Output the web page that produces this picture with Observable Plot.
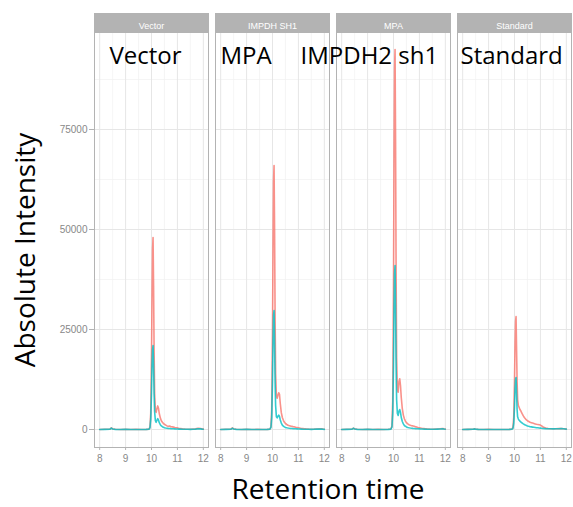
<!DOCTYPE html>
<html>
<head>
<meta charset="utf-8">
<script src="https://cdn.jsdelivr.net/npm/d3@7"></script>
<script src="https://cdn.jsdelivr.net/npm/@observablehq/plot@0.6"></script>
<style>
  body { margin: 0; background: #fff; }
  #chart svg { display: block; }
</style>
</head>
<body>
<div id="chart"></div>
<script>
// Facet strips (left to right) and the hand-written notes placed over each panel
const panels = ["Vector", "IMPDH SH1", "MPA", "Standard"];
const panelNotes = ["Vector", "MPA", "IMPDH2 sh1", "Standard"];
const traces = ["Trace A", "Trace B"];

// Shared retention-time grid (min)
const retentionTime = [
  8.00, 8.20, 8.40, 8.45, 8.50, 8.60, 8.80, 9.00, 9.20, 9.40, 9.60, 9.80,
  9.90, 9.94, 9.97, 10.00, 10.02, 10.04, 10.06, 10.08, 10.10, 10.12, 10.15, 10.18,
  10.21, 10.24, 10.27, 10.30, 10.34, 10.38, 10.42, 10.46, 10.50, 10.55, 10.60, 10.65,
  10.70, 10.75, 10.80, 10.85, 10.90, 10.95, 11.00, 11.05, 11.10, 11.20,
  11.30, 11.40, 11.50, 11.60, 11.70, 11.80, 11.90, 11.95, 12.00
];

// Absolute intensity per panel and trace
const vectorA = [
  0, 50, 100, 400, 150, 50, 0, 30, 0, 20, 0, 40,
  100, 600, 4000, 18000, 33000, 45000, 48000, 36000, 20000, 9000, 4600, 4300,
  5200, 5900, 5300, 4000, 2900, 2200, 1800, 1500, 1300, 1100, 900, 800,
  850, 700, 650, 600, 500, 450, 400, 300, 250, 150,
  100, 80, 60, 100, 150, 300, 250, 150, 100
];
const vectorB = [
  0, 40, 80, 350, 120, 40, 0, 20, 0, 10, 0, 30,
  80, 400, 2500, 9000, 16000, 20000, 21000, 16000, 9000, 4500, 2200, 1800,
  2300, 2700, 2400, 1700, 1200, 900, 700, 550, 450, 380, 320, 280,
  250, 220, 200, 180, 160, 140, 120, 100, 90, 70,
  60, 50, 40, 60, 90, 200, 150, 100, 60
];
const impdhA = [
  0, 50, 100, 400, 150, 50, 0, 30, 0, 20, 0, 40,
  100, 700, 5000, 24000, 45000, 62000, 66000, 50000, 28000, 14000, 8500, 7800,
  8600, 9200, 8800, 6500, 4200, 3000, 2300, 1800, 1500, 1250, 1050, 950,
  850, 800, 700, 650, 550, 500, 450, 380, 320, 220,
  150, 100, 80, 100, 140, 200, 180, 120, 80
];
const impdhB = [
  0, 40, 80, 300, 120, 40, 0, 20, 0, 10, 0, 30,
  90, 500, 3000, 12000, 22000, 28500, 29750, 22000, 12000, 6000, 3200, 2900,
  3300, 3600, 3300, 2400, 1600, 1100, 850, 650, 520, 430, 360, 310,
  270, 240, 210, 190, 170, 150, 130, 110, 100, 80,
  60, 50, 40, 60, 90, 120, 100, 70, 40
];
const mpaA = [
  0, 50, 100, 350, 150, 50, 0, 30, 0, 20, 0, 50,
  120, 900, 7000, 35000, 68000, 90000, 95000, 72000, 40000, 18000, 10000, 9300,
  12000, 12700, 11000, 8000, 5200, 3600, 2700, 2100, 1700, 1400, 1200, 1050,
  950, 900, 800, 700, 600, 520, 450, 380, 320, 220,
  150, 100, 80, 100, 130, 180, 220, 150, 100
];
const mpaB = [
  0, 40, 80, 300, 120, 40, 0, 20, 0, 10, 0, 40,
  100, 600, 4000, 16000, 30000, 39000, 41000, 30000, 16000, 7500, 4000, 3500,
  4600, 5000, 4300, 3000, 2000, 1400, 1000, 800, 650, 520, 430, 370,
  320, 280, 250, 220, 190, 170, 150, 130, 110, 90,
  70, 60, 50, 70, 100, 130, 160, 110, 70
];
const standardA = [
  0, 40, 80, 200, 100, 40, 0, 20, 0, 10, 0, 30,
  80, 500, 3000, 12000, 21000, 27000, 28250, 20000, 12000, 7500, 6000, 5500,
  5000, 4700, 4300, 3900, 3400, 3000, 2700, 2400, 2200, 2000, 1800, 1700,
  1600, 1500, 1400, 1300, 1250, 1200, 1100, 900, 600, 350,
  250, 200, 180, 200, 220, 250, 200, 150, 100
];
const standardB = [
  0, 30, 60, 150, 80, 30, 0, 15, 0, 10, 0, 25,
  60, 300, 1500, 5500, 10000, 12500, 13000, 9000, 5000, 3200, 2600, 2300,
  2100, 1900, 1750, 1600, 1400, 1250, 1100, 1000, 900, 800, 700, 650,
  600, 550, 500, 450, 420, 380, 350, 300, 260, 220,
  200, 180, 160, 180, 200, 220, 180, 130, 90
];

// Axis ticks and grid breaks
const xTicks = [8, 9, 10, 11, 12];
const xMinor = [8.5, 9.5, 10.5, 11.5];
const yTicks = [0, 25000, 50000, 75000];
const yMinor = [12500, 37500, 62500, 87500];

const traceSets = [
  [panels[0], traces[0], vectorA], [panels[0], traces[1], vectorB],
  [panels[1], traces[0], impdhA], [panels[1], traces[1], impdhB],
  [panels[2], traces[0], mpaA], [panels[2], traces[1], mpaB],
  [panels[3], traces[0], standardA], [panels[3], traces[1], standardB]
];
const rows = traceSets.flatMap(([panel, trace, values]) =>
  values.map((v, i) => ({panel, trace, time: retentionTime[i], intensity: v})));

// Layout
const W = 573, H = 507;
const mL = 92, mR = 0, mT = 32, mB = 60;
const panelH = H - mT - mB;
const stripH = 19;
const noteDx = [15, 5, -36, 3];

const gray = "#b3b3b3";

const plot = Plot.plot({
  width: W,
  height: H,
  marginLeft: mL,
  marginRight: mR,
  marginTop: mT,
  marginBottom: mB,
  style: {fontFamily: "'Liberation Sans', Arial, sans-serif", background: "#fff"},
  fx: {domain: panels, paddingInner: 0.057, paddingOuter: 0, axis: null, label: null},
  x: {domain: [7.8, 12.2], label: null},
  y: {domain: [-4500, 99250], label: null},
  color: {domain: traces, range: ["#F8766D", "#00BFC4"]},
  marks: [
    // strip header above each panel
    Plot.frame({fill: gray, stroke: gray, insetTop: -stripH, insetBottom: panelH}),
    Plot.gridY(yMinor, {stroke: "#f1f1f1", strokeOpacity: 1, strokeWidth: 0.7}),
    Plot.gridX(xMinor, {stroke: "#f1f1f1", strokeOpacity: 1, strokeWidth: 0.7}),
    Plot.gridY(yTicks, {stroke: "#e6e6e6", strokeOpacity: 1, strokeWidth: 1}),
    Plot.gridX(xTicks, {stroke: "#e6e6e6", strokeOpacity: 1, strokeWidth: 1}),
    Plot.lineY(rows, {
      fx: "panel", x: "time", y: "intensity", z: "trace", stroke: "trace",
      strokeWidth: 1.6, strokeOpacity: 0.8
    }),
    Plot.frame({stroke: gray, strokeWidth: 1}),
    Plot.text(panels, {
      fx: d => d, text: d => d, frameAnchor: "top", dy: -9.5,
      fill: "white", fontSize: 9
    }),
    ...panelNotes.map((note, i) => Plot.text([note], {
      fx: () => panels[i], text: d => d, frameAnchor: "top-left",
      textAnchor: "start", lineAnchor: "top", dx: noteDx[i], dy: 14,
      fontFamily: "'Open Sans', sans-serif", fontSize: 24, fill: "black"
    })),
    Plot.axisY(yTicks, {
      tickSize: 5, tickPadding: 2, stroke: gray, fill: "#888", fontSize: 10,
      tickFormat: d => String(d), label: null
    }),
    Plot.axisX(xTicks, {tickSize: 3, tickPadding: 4, stroke: gray, fill: "#888", fontSize: 10, label: null})
  ]
});

const svg = d3.select(plot);
svg.append("text")
  .attr("transform", "translate(35,250) rotate(-90)")
  .attr("text-anchor", "middle")
  .attr("fill", "black")
  .style("font-family", "'Open Sans', sans-serif")
  .style("font-size", "28px")
  .text("Absolute Intensity");
svg.append("text")
  .attr("x", 328)
  .attr("y", 499)
  .attr("text-anchor", "middle")
  .attr("fill", "black")
  .style("font-family", "'Open Sans', sans-serif")
  .style("font-size", "28px")
  .text("Retention time");

document.getElementById("chart").appendChild(plot);
</script>
</body>
</html>
